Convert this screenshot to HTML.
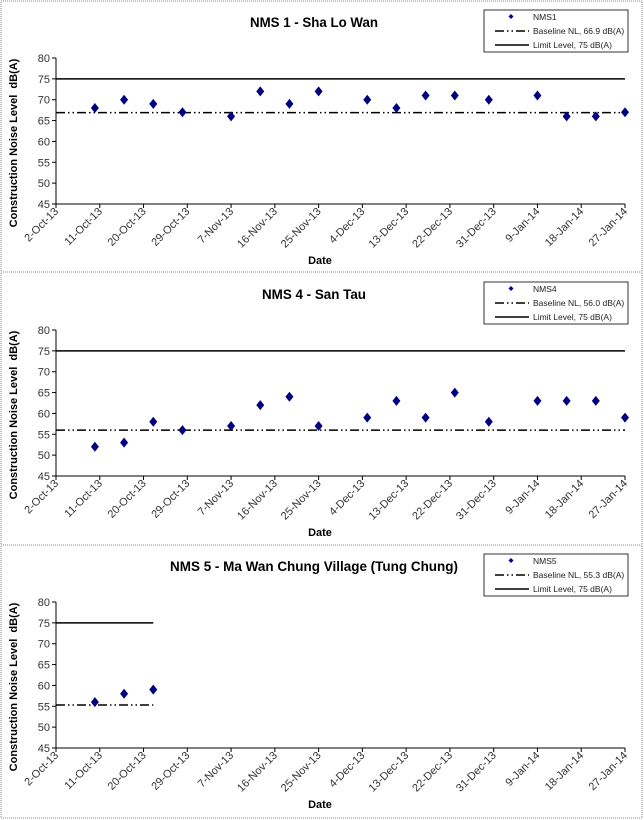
<!DOCTYPE html>
<html><head><meta charset="utf-8">
<style>
html,body{margin:0;padding:0;background:#fff;}
svg{display:block;font-family:"Liberation Sans",Arial,sans-serif;}
</style></head>
<body>
<svg id="s" width="644" height="820" xmlns="http://www.w3.org/2000/svg"></svg>
<script>
const svg=document.getElementById('s');
let h='';
const X0=56,X1=625,DPX=(X1-X0)/117;
const ticks=['2-Oct-13','11-Oct-13','20-Oct-13','29-Oct-13','7-Nov-13','16-Nov-13','25-Nov-13','4-Dec-13','13-Dec-13','22-Dec-13','31-Dec-13','9-Jan-14','18-Jan-14','27-Jan-14'];
const days=[8,14,20,26,36,42,48,54,64,70,76,82,89,99,105,111,117];
function chart(oy,title,tl,name,base,vals,lineEnd){
  const Y80=58+oy,Y45=204+oy;
  const y=v=>Y45-(v-45)*(Y45-Y80)/35;
  h+=`<text x="314" y="${oy+27}" text-anchor="middle" font-size="13.5" font-weight="bold" textLength="${tl}" lengthAdjust="spacingAndGlyphs">${title}</text>`;
  h+=`<rect x="484" y="${oy+10}" width="144" height="42" fill="#fff" stroke="#000" stroke-width="0.8"/>`;
  h+=`<path d="M511 ${oy+14} l2.5 2.5 l-2.5 2.5 l-2.5 -2.5z" fill="#000080"/>`;
  h+=`<text x="533" y="${oy+20}" font-size="8.5" fill="#222">${name}</text>`;
  h+=`<line x1="495" x2="529" y1="${oy+31}" y2="${oy+31}" stroke="#000" stroke-width="1.5" stroke-dasharray="9,3,1.5,3,1.5,3"/>`;
  h+=`<text x="533" y="${oy+34}" font-size="8.5" fill="#222">Baseline NL, ${base.toFixed(1)} dB(A)</text>`;
  h+=`<line x1="495" x2="529" y1="${oy+45}" y2="${oy+45}" stroke="#000" stroke-width="1.5"/>`;
  h+=`<text x="533" y="${oy+48}" font-size="8.5" fill="#222">Limit Level, 75 dB(A)</text>`;
  h+=`<line x1="${X0}" x2="${X0}" y1="${Y80}" y2="${Y45}" stroke="#000" stroke-width="1"/>`;
  h+=`<line x1="${X0}" x2="${X1}" y1="${Y45}" y2="${Y45}" stroke="#000" stroke-width="1"/>`;
  for(let v=45;v<=80;v+=5){const yy=y(v);
    h+=`<line x1="${X0-4}" x2="${X0}" y1="${yy}" y2="${yy}" stroke="#000"/>`;
    h+=`<text x="${X0-6}" y="${yy+4}" text-anchor="end" font-size="11" fill="#333">${v}</text>`;}
  ticks.forEach((t,i)=>{const xx=X0+i*9*DPX;
    h+=`<line x1="${xx}" x2="${xx}" y1="${Y45}" y2="${Y45+4}" stroke="#000"/>`;
    h+=`<text transform="translate(${xx+3},${Y45+8}) rotate(-45)" text-anchor="end" font-size="11" fill="#333">${t}</text>`;});
  h+=`<text x="320" y="${oy+264}" text-anchor="middle" font-size="11" font-weight="bold">Date</text>`;
  h+=`<text transform="translate(17,${oy+143}) rotate(-90)" text-anchor="middle" font-size="11" font-weight="bold">Construction Noise Level &#160;dB(A)</text>`;
  const xe=lineEnd?X0+lineEnd*DPX:X1;
  h+=`<line x1="${X0}" x2="${xe}" y1="${y(75)}" y2="${y(75)}" stroke="#000" stroke-width="1.5"/>`;
  h+=`<line x1="${X0}" x2="${xe}" y1="${y(base)}" y2="${y(base)}" stroke="#000" stroke-width="1.5" stroke-dasharray="9,3,1.5,3,1.5,3"/>`;
  vals.forEach((v,i)=>{const xx=X0+days[i]*DPX,yy=y(v);
    h+=`<path d="M${xx} ${yy-5} l4 5 l-4 5 l-4 -5z" fill="#000080"/>`;});
}
h+=`<rect x="1" y="1" width="641" height="271" fill="none" stroke="#888" stroke-dasharray="1,1"/>`;
h+=`<rect x="1" y="272" width="641" height="273" fill="none" stroke="#888" stroke-dasharray="1,1"/>`;
h+=`<rect x="1" y="545" width="641" height="273" fill="none" stroke="#888" stroke-dasharray="1,1"/>`;
chart(0,'NMS 1 - Sha Lo Wan',128,'NMS1',66.9,[68,70,69,67,66,72,69,72,70,68,71,71,70,71,66,66,67]);
chart(272,'NMS 4 - San Tau',104,'NMS4',56.0,[52,53,58,56,57,62,64,57,59,63,59,65,58,63,63,63,59]);
chart(544,'NMS 5 - Ma Wan Chung Village (Tung Chung)',288,'NMS5',55.3,[56,58,59],20);
svg.innerHTML=h;
</script>
</body></html>
